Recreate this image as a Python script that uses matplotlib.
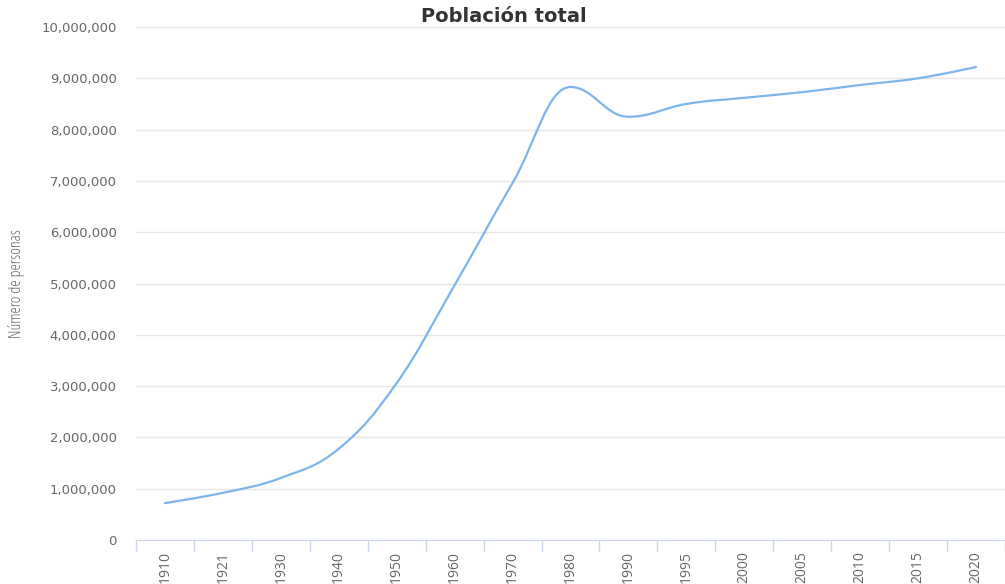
import numpy as np
import matplotlib
matplotlib.use("Agg")
import matplotlib.pyplot as plt
from matplotlib.path import Path
from matplotlib.patches import PathPatch
from matplotlib.ticker import FuncFormatter, FixedLocator

years = ["1910", "1921", "1930", "1940", "1950", "1960", "1970", "1980",
         "1990", "1995", "2000", "2005", "2010", "2015", "2020"]
population = [720000, 920000, 1210000, 1780000, 3060000, 4970000, 6960000,
              8830000, 8250000, 8500000, 8620000, 8730000, 8870000, 9000000,
              9220000]


def spline_path(xs, ys, smoothing=1.5):
    # cubic bezier through the points, same control point rule as a Highcharts spline
    n = len(xs)
    denom = smoothing + 1
    left = [(xs[i], ys[i]) for i in range(n)]
    right = [(xs[i], ys[i]) for i in range(n)]
    for i in range(1, n - 1):
        px, py = xs[i], ys[i]
        lx, ly = xs[i - 1], ys[i - 1]
        nx, ny = xs[i + 1], ys[i + 1]
        lcx = (smoothing * px + lx) / denom
        lcy = (smoothing * py + ly) / denom
        rcx = (smoothing * px + nx) / denom
        rcy = (smoothing * py + ny) / denom
        corr = (rcy - lcy) * (rcx - px) / (rcx - lcx) + py - rcy
        lcy += corr
        rcy += corr
        if lcy > ly and lcy > py:
            lcy = max(ly, py)
            rcy = 2 * py - lcy
        elif lcy < ly and lcy < py:
            lcy = min(ly, py)
            rcy = 2 * py - lcy
        if rcy > ny and rcy > py:
            rcy = max(ny, py)
            lcy = 2 * py - rcy
        elif rcy < ny and rcy < py:
            rcy = min(ny, py)
            lcy = 2 * py - rcy
        left[i] = (lcx, lcy)
        right[i] = (rcx, rcy)
    verts = [(xs[0], ys[0])]
    codes = [Path.MOVETO]
    for i in range(1, n):
        verts += [right[i - 1], left[i], (xs[i], ys[i])]
        codes += [Path.CURVE4] * 3
    return Path(verts, codes)


fig = plt.figure(figsize=(10.05, 5.84), dpi=100)
ax = fig.add_axes([136 / 1005, 1 - 540 / 584, 869 / 1005, 513 / 584])

x = np.arange(len(years))
ax.add_patch(PathPatch(spline_path(x, population), facecolor="none",
                       edgecolor="#7cb5ec", lw=1.6, capstyle="round"))

ax.set_xlim(-0.5, len(years) - 0.5)
ax.set_ylim(0, 10000000)
ax.set_yticks(np.arange(0, 10000001, 1000000))
ax.yaxis.set_major_formatter(FuncFormatter(lambda v, p: f"{int(v):,}"))
ax.grid(axis="y", color="#e6e6e6", lw=1)
ax.set_axisbelow(True)

# category labels in the middle of each band, ticks on the band edges
ax.set_xticks(x)
ax.set_xticklabels(years, rotation=90, color="#666666", fontsize=10,
                   fontfamily="Open Sans", fontstretch="semi-condensed")
ax.tick_params(axis="x", which="major", length=0, pad=8)
ax.xaxis.set_minor_locator(FixedLocator(np.arange(-0.5, len(years) - 0.4, 1)))
ax.tick_params(axis="x", which="minor", length=8, width=1, color="#ccd6eb")

ax.tick_params(axis="y", length=0, pad=14, labelcolor="#666666", labelsize=9.5)

for side in ["top", "right", "left"]:
    ax.spines[side].set_visible(False)
ax.spines["bottom"].set_color("#ccd6eb")

ax.set_ylabel("Número de personas", color="#666666", fontsize=11.4,
              fontfamily="Open Sans", fontstretch="condensed")
ax.yaxis.set_label_coords(-111 / 869, 0.5)

fig.text(504 / 1005, 1 - 16 / 584, "Población total", ha="center", va="center",
         fontsize=14, color="#333333", fontweight="bold")

fig.savefig("out.png", dpi=100)
